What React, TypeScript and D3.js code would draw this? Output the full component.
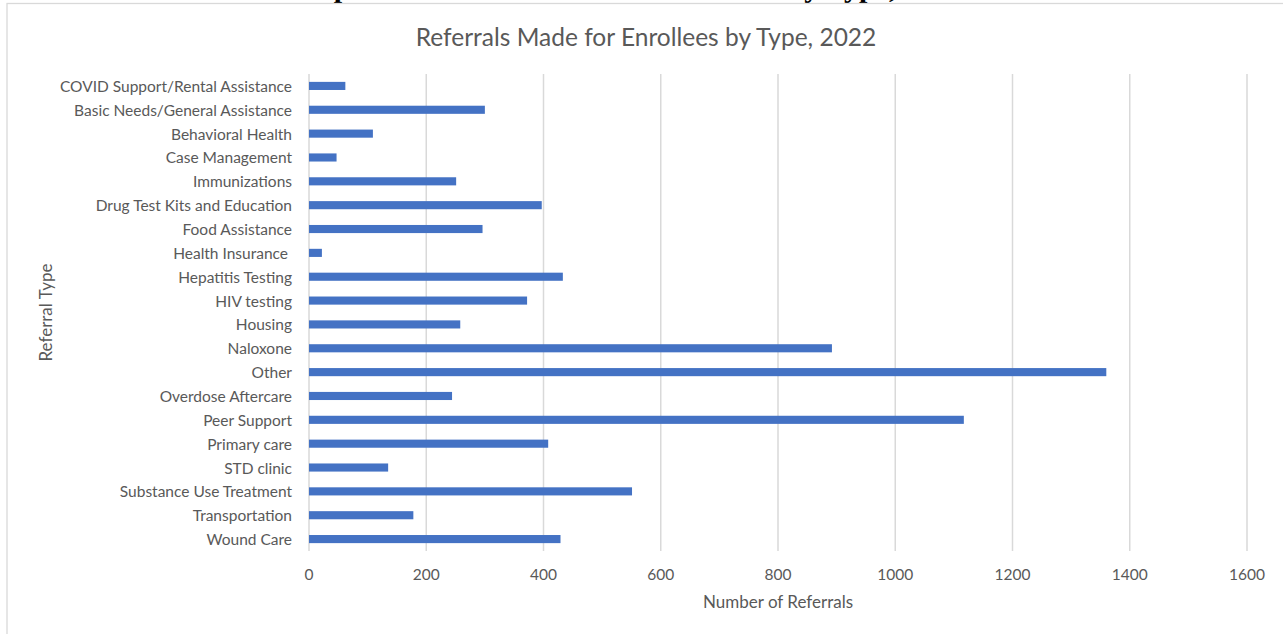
import React from "react";
import * as d3 from "d3";

const categories = [
  "COVID Support/Rental Assistance",
  "Basic Needs/General Assistance",
  "Behavioral Health",
  "Case Management",
  "Immunizations",
  "Drug Test Kits and Education",
  "Food Assistance",
  "Health Insurance ",
  "Hepatitis Testing",
  "HIV testing",
  "Housing",
  "Naloxone",
  "Other",
  "Overdose Aftercare",
  "Peer Support",
  "Primary care",
  "STD clinic",
  "Substance Use Treatment",
  "Transportation",
  "Wound Care",
];

const referrals = [62, 300, 109, 47, 251, 397, 296, 22, 433, 372, 258, 892, 1360, 244, 1117, 408, 135, 551, 178, 429];

const xTicks = [0, 200, 400, 600, 800, 1000, 1200, 1400, 1600];

const chartTitle = "Referrals Made for Enrollees by Type, 2022";
const pageHeading = "Graph 3: Referrals Made for Enrollees by Type, 2022";
const xAxisTitle = "Number of Referrals";
const yAxisTitle = "Referral Type";

const W = 1283;
const H = 634;
const plot = { left: 309, right: 1247, top: 74, bottom: 551 };
const textColor = "#595959";
const gridColor = "#d9d9d9";
const barColor = "#4472C4";
const font = "Lato, 'Open Sans', sans-serif";

export default function App() {
  const x = d3.scaleLinear().domain([0, 1600]).range([plot.left, plot.right]);
  const y = d3
    .scaleBand<string>()
    .domain(categories)
    .range([plot.top, plot.bottom])
    .paddingInner(0.66)
    .paddingOuter(0.33);

  return (
    <svg
      width={W}
      height={H}
      style={{ position: "absolute", left: 0, top: 0, display: "block", background: "#fff" }}
    >
      <rect x={0} y={0} width={W} height={H} fill="#fff" />
      {/* page heading above the chart, clipped by the top edge as in the reference */}
      <text
        x={282}
        y={-3.5}
        fontFamily="'Liberation Serif', 'Times New Roman', serif"
        fontWeight="bold"
        fontSize={30}
        fill="#000"
      >
        {pageHeading}
      </text>
      {/* chart frame */}
      <rect x={7} y={3.5} width={W + 20} height={H + 20} fill="none" stroke={gridColor} strokeWidth={1.3} />

      <text x={646} y={36} textAnchor="middle" dominantBaseline="central" fontFamily={font} fontSize={24.5} fill={textColor}>
        {chartTitle}
      </text>

      {/* gridlines */}
      {xTicks.map((t) => (
        <line key={t} x1={x(t)} x2={x(t)} y1={plot.top} y2={plot.bottom} stroke={gridColor} strokeWidth={1.5} />
      ))}

      {/* bars */}
      {categories.map((c, i) => (
        <rect
          key={c}
          x={x(0)}
          y={y(c)!}
          width={x(referrals[i]) - x(0)}
          height={y.bandwidth()}
          fill={barColor}
        />
      ))}

      {/* category labels */}
      {categories.map((c) => (
        <text
          key={c}
          x={292}
          y={y(c)! + y.bandwidth() / 2}
          textAnchor="end"
          dominantBaseline="central"
          fontFamily={font}
          fontSize={15.5}
          fill={textColor}
          style={{ whiteSpace: "pre" }}
        >
          {c}
        </text>
      ))}

      {/* x tick labels */}
      {xTicks.map((t) => (
        <text key={t} x={x(t)} y={574} textAnchor="middle" dominantBaseline="central" fontFamily={font} fontSize={15.5} fill={textColor}>
          {t}
        </text>
      ))}

      <text x={(plot.left + plot.right) / 2} y={601} textAnchor="middle" dominantBaseline="central" fontFamily={font} fontSize={17} fill={textColor}>
        {xAxisTitle}
      </text>
      <text
        transform={`translate(45, ${(plot.top + plot.bottom) / 2}) rotate(-90)`}
        textAnchor="middle"
        dominantBaseline="central"
        fontFamily={font}
        fontSize={17}
        fill={textColor}
      >
        {yAxisTitle}
      </text>
    </svg>
  );
}
